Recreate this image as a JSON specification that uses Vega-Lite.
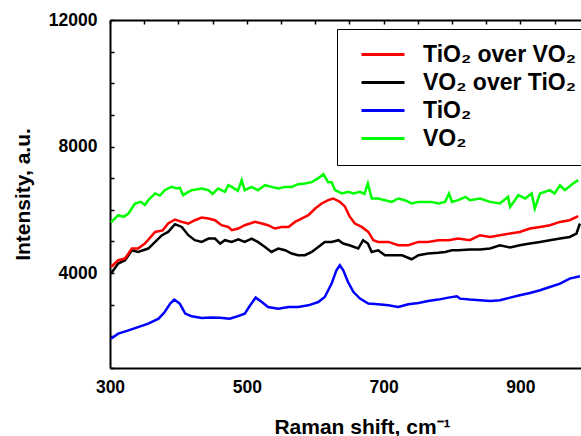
{
  "$schema": "https://vega.github.io/schema/vega-lite/v6.json",
  "width": 471,
  "height": 348,
  "autosize": {"type": "none"},
  "padding": {"left": 110, "top": 20, "right": 0, "bottom": 68},
  "config": {
    "view": {"stroke": null},
    "font": "Liberation Sans",
    "axis": {
      "domain": true,
      "domainColor": "black",
      "domainWidth": 2,
      "ticks": false,
      "grid": true,
      "gridColor": "black",
      "gridOpacity": 1,
      "gridWidth": 1.5,
      "gridDash": [4, 2000],
      "labelFlush": false,
      "labelColor": "black",
      "labelFont": "Liberation Sans",
      "labelFontSize": 17.5,
      "labelFontWeight": "bold",
      "titleColor": "black",
      "titleFont": "Liberation Sans",
      "titleFontSize": 21,
      "titleFontWeight": "bold"
    }
  },
  "datasets": {
    "spectra": [
      {"series": "TiO₂", "shift": 301.5, "intensity": 1927}, {"series": "TiO₂", "shift": 312, "intensity": 2086}, {"series": "TiO₂", "shift": 327, "intensity": 2190}, {"series": "TiO₂", "shift": 341, "intensity": 2294}, {"series": "TiO₂", "shift": 356, "intensity": 2402}, {"series": "TiO₂", "shift": 371, "intensity": 2560}, {"series": "TiO₂", "shift": 380, "intensity": 2769}, {"series": "TiO₂", "shift": 388, "intensity": 3035}, {"series": "TiO₂", "shift": 394, "intensity": 3162}, {"series": "TiO₂", "shift": 402, "intensity": 3035}, {"series": "TiO₂", "shift": 410, "intensity": 2719}, {"series": "TiO₂", "shift": 419.5, "intensity": 2633}, {"series": "TiO₂", "shift": 434, "intensity": 2579}, {"series": "TiO₂", "shift": 447, "intensity": 2600}, {"series": "TiO₂", "shift": 461, "intensity": 2590}, {"series": "TiO₂", "shift": 475, "intensity": 2560}, {"series": "TiO₂", "shift": 483, "intensity": 2610}, {"series": "TiO₂", "shift": 497, "intensity": 2719}, {"series": "TiO₂", "shift": 505, "intensity": 2981}, {"series": "TiO₂", "shift": 513, "intensity": 3225}, {"series": "TiO₂", "shift": 522, "intensity": 3086}, {"series": "TiO₂", "shift": 531, "intensity": 2927}, {"series": "TiO₂", "shift": 546, "intensity": 2877}, {"series": "TiO₂", "shift": 561, "intensity": 2927}, {"series": "TiO₂", "shift": 575, "intensity": 2927}, {"series": "TiO₂", "shift": 590, "intensity": 2981}, {"series": "TiO₂", "shift": 604.5, "intensity": 3086}, {"series": "TiO₂", "shift": 614, "intensity": 3244}, {"series": "TiO₂", "shift": 624, "intensity": 3668}, {"series": "TiO₂", "shift": 631, "intensity": 4089}, {"series": "TiO₂", "shift": 636, "intensity": 4247}, {"series": "TiO₂", "shift": 641, "intensity": 4089}, {"series": "TiO₂", "shift": 648, "intensity": 3719}, {"series": "TiO₂", "shift": 656, "intensity": 3402}, {"series": "TiO₂", "shift": 665.5, "intensity": 3193}, {"series": "TiO₂", "shift": 677.6, "intensity": 3035}, {"series": "TiO₂", "shift": 692, "intensity": 3013}, {"series": "TiO₂", "shift": 707, "intensity": 2981}, {"series": "TiO₂", "shift": 721.5, "intensity": 2927}, {"series": "TiO₂", "shift": 736, "intensity": 3013}, {"series": "TiO₂", "shift": 751, "intensity": 3054}, {"series": "TiO₂", "shift": 765, "intensity": 3117}, {"series": "TiO₂", "shift": 780, "intensity": 3162}, {"series": "TiO₂", "shift": 794.6, "intensity": 3225}, {"series": "TiO₂", "shift": 807, "intensity": 3266}, {"series": "TiO₂", "shift": 811.7, "intensity": 3193}, {"series": "TiO₂", "shift": 826, "intensity": 3162}, {"series": "TiO₂", "shift": 841, "intensity": 3140}, {"series": "TiO₂", "shift": 855.6, "intensity": 3117}, {"series": "TiO₂", "shift": 870, "intensity": 3140}, {"series": "TiO₂", "shift": 885, "intensity": 3225}, {"series": "TiO₂", "shift": 899, "intensity": 3298}, {"series": "TiO₂", "shift": 914, "intensity": 3371}, {"series": "TiO₂", "shift": 928.7, "intensity": 3456}, {"series": "TiO₂", "shift": 943, "intensity": 3560}, {"series": "TiO₂", "shift": 958, "intensity": 3668}, {"series": "TiO₂", "shift": 972, "intensity": 3826}, {"series": "TiO₂", "shift": 987, "intensity": 3899},

      {"series": "VO₂ over TiO₂", "shift": 301.5, "intensity": 3985}, {"series": "VO₂ over TiO₂", "shift": 312, "intensity": 4301}, {"series": "VO₂ over TiO₂", "shift": 322, "intensity": 4406}, {"series": "VO₂ over TiO₂", "shift": 332, "intensity": 4722}, {"series": "VO₂ over TiO₂", "shift": 341, "intensity": 4668}, {"series": "VO₂ over TiO₂", "shift": 356, "intensity": 4776}, {"series": "VO₂ over TiO₂", "shift": 366, "intensity": 4985}, {"series": "VO₂ over TiO₂", "shift": 376, "intensity": 5197}, {"series": "VO₂ over TiO₂", "shift": 385, "intensity": 5301}, {"series": "VO₂ over TiO₂", "shift": 395, "intensity": 5545}, {"series": "VO₂ over TiO₂", "shift": 405, "intensity": 5459}, {"series": "VO₂ over TiO₂", "shift": 414.5, "intensity": 5197}, {"series": "VO₂ over TiO₂", "shift": 424, "intensity": 5039}, {"series": "VO₂ over TiO₂", "shift": 434, "intensity": 4985}, {"series": "VO₂ over TiO₂", "shift": 444, "intensity": 5092}, {"series": "VO₂ over TiO₂", "shift": 453.5, "intensity": 5092}, {"series": "VO₂ over TiO₂", "shift": 461, "intensity": 4934}, {"series": "VO₂ over TiO₂", "shift": 468, "intensity": 5039}, {"series": "VO₂ over TiO₂", "shift": 478, "intensity": 4985}, {"series": "VO₂ over TiO₂", "shift": 487.5, "intensity": 5070}, {"series": "VO₂ over TiO₂", "shift": 497, "intensity": 4985}, {"series": "VO₂ over TiO₂", "shift": 507, "intensity": 5092}, {"series": "VO₂ over TiO₂", "shift": 516, "intensity": 4985}, {"series": "VO₂ over TiO₂", "shift": 526.6, "intensity": 4826}, {"series": "VO₂ over TiO₂", "shift": 536, "intensity": 4668}, {"series": "VO₂ over TiO₂", "shift": 546, "intensity": 4776}, {"series": "VO₂ over TiO₂", "shift": 556, "intensity": 4722}, {"series": "VO₂ over TiO₂", "shift": 565.6, "intensity": 4618}, {"series": "VO₂ over TiO₂", "shift": 575, "intensity": 4564}, {"series": "VO₂ over TiO₂", "shift": 585, "intensity": 4564}, {"series": "VO₂ over TiO₂", "shift": 595, "intensity": 4668}, {"series": "VO₂ over TiO₂", "shift": 604.5, "intensity": 4826}, {"series": "VO₂ over TiO₂", "shift": 614, "intensity": 4985}, {"series": "VO₂ over TiO₂", "shift": 624, "intensity": 4985}, {"series": "VO₂ over TiO₂", "shift": 634, "intensity": 5039}, {"series": "VO₂ over TiO₂", "shift": 641, "intensity": 4934}, {"series": "VO₂ over TiO₂", "shift": 650, "intensity": 4880}, {"series": "VO₂ over TiO₂", "shift": 663, "intensity": 4776}, {"series": "VO₂ over TiO₂", "shift": 670, "intensity": 5039}, {"series": "VO₂ over TiO₂", "shift": 677, "intensity": 4934}, {"series": "VO₂ over TiO₂", "shift": 682.6, "intensity": 4668}, {"series": "VO₂ over TiO₂", "shift": 692, "intensity": 4722}, {"series": "VO₂ over TiO₂", "shift": 702, "intensity": 4564}, {"series": "VO₂ over TiO₂", "shift": 717, "intensity": 4564}, {"series": "VO₂ over TiO₂", "shift": 727, "intensity": 4564}, {"series": "VO₂ over TiO₂", "shift": 741, "intensity": 4437}, {"series": "VO₂ over TiO₂", "shift": 751, "intensity": 4564}, {"series": "VO₂ over TiO₂", "shift": 765, "intensity": 4618}, {"series": "VO₂ over TiO₂", "shift": 780, "intensity": 4640}, {"series": "VO₂ over TiO₂", "shift": 790, "intensity": 4668}, {"series": "VO₂ over TiO₂", "shift": 800, "intensity": 4722}, {"series": "VO₂ over TiO₂", "shift": 809, "intensity": 4722}, {"series": "VO₂ over TiO₂", "shift": 826, "intensity": 4744}, {"series": "VO₂ over TiO₂", "shift": 841, "intensity": 4744}, {"series": "VO₂ over TiO₂", "shift": 855.6, "intensity": 4776}, {"series": "VO₂ over TiO₂", "shift": 870, "intensity": 4880}, {"series": "VO₂ over TiO₂", "shift": 885, "intensity": 4808}, {"series": "VO₂ over TiO₂", "shift": 899, "intensity": 4880}, {"series": "VO₂ over TiO₂", "shift": 914, "intensity": 4934}, {"series": "VO₂ over TiO₂", "shift": 928.7, "intensity": 4985}, {"series": "VO₂ over TiO₂", "shift": 943, "intensity": 5039}, {"series": "VO₂ over TiO₂", "shift": 958, "intensity": 5092}, {"series": "VO₂ over TiO₂", "shift": 972, "intensity": 5143}, {"series": "VO₂ over TiO₂", "shift": 982, "intensity": 5251}, {"series": "VO₂ over TiO₂", "shift": 987, "intensity": 5567},

      {"series": "TiO₂ over VO₂", "shift": 301.5, "intensity": 4193}, {"series": "TiO₂ over VO₂", "shift": 312, "intensity": 4406}, {"series": "TiO₂ over VO₂", "shift": 322, "intensity": 4459}, {"series": "TiO₂ over VO₂", "shift": 332, "intensity": 4776}, {"series": "TiO₂ over VO₂", "shift": 341, "intensity": 4776}, {"series": "TiO₂ over VO₂", "shift": 351, "intensity": 4934}, {"series": "TiO₂ over VO₂", "shift": 366, "intensity": 5301}, {"series": "TiO₂ over VO₂", "shift": 377, "intensity": 5350}, {"series": "TiO₂ over VO₂", "shift": 385, "intensity": 5567}, {"series": "TiO₂ over VO₂", "shift": 395, "intensity": 5694}, {"series": "TiO₂ over VO₂", "shift": 405, "intensity": 5618}, {"series": "TiO₂ over VO₂", "shift": 414.5, "intensity": 5566}, {"series": "TiO₂ over VO₂", "shift": 424, "intensity": 5671}, {"series": "TiO₂ over VO₂", "shift": 434, "intensity": 5757}, {"series": "TiO₂ over VO₂", "shift": 444, "intensity": 5725}, {"series": "TiO₂ over VO₂", "shift": 453.5, "intensity": 5671}, {"series": "TiO₂ over VO₂", "shift": 463, "intensity": 5513}, {"series": "TiO₂ over VO₂", "shift": 473, "intensity": 5459}, {"series": "TiO₂ over VO₂", "shift": 478, "intensity": 5355}, {"series": "TiO₂ over VO₂", "shift": 487.5, "intensity": 5409}, {"series": "TiO₂ over VO₂", "shift": 497, "intensity": 5513}, {"series": "TiO₂ over VO₂", "shift": 512, "intensity": 5618}, {"series": "TiO₂ over VO₂", "shift": 522, "intensity": 5566}, {"series": "TiO₂ over VO₂", "shift": 531, "intensity": 5513}, {"series": "TiO₂ over VO₂", "shift": 541, "intensity": 5409}, {"series": "TiO₂ over VO₂", "shift": 551, "intensity": 5459}, {"series": "TiO₂ over VO₂", "shift": 561, "intensity": 5459}, {"series": "TiO₂ over VO₂", "shift": 570.5, "intensity": 5618}, {"series": "TiO₂ over VO₂", "shift": 580, "intensity": 5725}, {"series": "TiO₂ over VO₂", "shift": 590, "intensity": 5830}, {"series": "TiO₂ over VO₂", "shift": 600, "intensity": 6042}, {"series": "TiO₂ over VO₂", "shift": 609.5, "intensity": 6200}, {"series": "TiO₂ over VO₂", "shift": 619, "intensity": 6305}, {"series": "TiO₂ over VO₂", "shift": 626.5, "intensity": 6358}, {"series": "TiO₂ over VO₂", "shift": 636, "intensity": 6251}, {"series": "TiO₂ over VO₂", "shift": 643.6, "intensity": 6100}, {"series": "TiO₂ over VO₂", "shift": 650, "intensity": 5800}, {"series": "TiO₂ over VO₂", "shift": 658, "intensity": 5567}, {"series": "TiO₂ over VO₂", "shift": 668, "intensity": 5459}, {"series": "TiO₂ over VO₂", "shift": 677.6, "intensity": 5301}, {"series": "TiO₂ over VO₂", "shift": 685, "intensity": 5039}, {"series": "TiO₂ over VO₂", "shift": 692, "intensity": 4985}, {"series": "TiO₂ over VO₂", "shift": 707, "intensity": 4985}, {"series": "TiO₂ over VO₂", "shift": 721.5, "intensity": 4880}, {"series": "TiO₂ over VO₂", "shift": 736, "intensity": 4880}, {"series": "TiO₂ over VO₂", "shift": 751, "intensity": 4985}, {"series": "TiO₂ over VO₂", "shift": 765, "intensity": 4985}, {"series": "TiO₂ over VO₂", "shift": 780, "intensity": 5039}, {"series": "TiO₂ over VO₂", "shift": 795, "intensity": 5039}, {"series": "TiO₂ over VO₂", "shift": 809, "intensity": 5092}, {"series": "TiO₂ over VO₂", "shift": 826, "intensity": 5039}, {"series": "TiO₂ over VO₂", "shift": 841, "intensity": 5197}, {"series": "TiO₂ over VO₂", "shift": 855.6, "intensity": 5143}, {"series": "TiO₂ over VO₂", "shift": 870, "intensity": 5197}, {"series": "TiO₂ over VO₂", "shift": 885, "intensity": 5250}, {"series": "TiO₂ over VO₂", "shift": 899, "intensity": 5301}, {"series": "TiO₂ over VO₂", "shift": 914, "intensity": 5409}, {"series": "TiO₂ over VO₂", "shift": 928.7, "intensity": 5459}, {"series": "TiO₂ over VO₂", "shift": 943, "intensity": 5513}, {"series": "TiO₂ over VO₂", "shift": 958, "intensity": 5618}, {"series": "TiO₂ over VO₂", "shift": 972, "intensity": 5671}, {"series": "TiO₂ over VO₂", "shift": 984.6, "intensity": 5798},

      {"series": "VO₂", "shift": 301.5, "intensity": 5600}, {"series": "VO₂", "shift": 312, "intensity": 5830}, {"series": "VO₂", "shift": 320, "intensity": 5780}, {"series": "VO₂", "shift": 327, "intensity": 5884}, {"series": "VO₂", "shift": 336.5, "intensity": 6200}, {"series": "VO₂", "shift": 345, "intensity": 6251}, {"series": "VO₂", "shift": 351, "intensity": 6150}, {"series": "VO₂", "shift": 356, "intensity": 6305}, {"series": "VO₂", "shift": 366, "intensity": 6517}, {"series": "VO₂", "shift": 373, "intensity": 6450}, {"series": "VO₂", "shift": 380, "intensity": 6621}, {"series": "VO₂", "shift": 390, "intensity": 6725}, {"series": "VO₂", "shift": 398, "intensity": 6675}, {"series": "VO₂", "shift": 402, "intensity": 6700}, {"series": "VO₂", "shift": 407, "intensity": 6463}, {"series": "VO₂", "shift": 414, "intensity": 6560}, {"series": "VO₂", "shift": 419.5, "intensity": 6621}, {"series": "VO₂", "shift": 434, "intensity": 6675}, {"series": "VO₂", "shift": 444, "intensity": 6621}, {"series": "VO₂", "shift": 450, "intensity": 6500}, {"series": "VO₂", "shift": 458, "intensity": 6675}, {"series": "VO₂", "shift": 468, "intensity": 6567}, {"series": "VO₂", "shift": 473, "intensity": 6779}, {"series": "VO₂", "shift": 478, "intensity": 6725}, {"series": "VO₂", "shift": 487, "intensity": 6600}, {"series": "VO₂", "shift": 492.5, "intensity": 6937}, {"series": "VO₂", "shift": 497, "intensity": 6621}, {"series": "VO₂", "shift": 507, "intensity": 6725}, {"series": "VO₂", "shift": 516, "intensity": 6621}, {"series": "VO₂", "shift": 526.6, "intensity": 6779}, {"series": "VO₂", "shift": 536, "intensity": 6725}, {"series": "VO₂", "shift": 546, "intensity": 6675}, {"series": "VO₂", "shift": 556, "intensity": 6725}, {"series": "VO₂", "shift": 565.6, "intensity": 6725}, {"series": "VO₂", "shift": 575, "intensity": 6811}, {"series": "VO₂", "shift": 585, "intensity": 6833}, {"series": "VO₂", "shift": 595, "intensity": 6874}, {"series": "VO₂", "shift": 604.5, "intensity": 7001}, {"series": "VO₂", "shift": 612, "intensity": 7127}, {"series": "VO₂", "shift": 619, "intensity": 6874}, {"series": "VO₂", "shift": 624, "intensity": 6874}, {"series": "VO₂", "shift": 629, "intensity": 6621}, {"series": "VO₂", "shift": 639, "intensity": 6517}, {"series": "VO₂", "shift": 648, "intensity": 6567}, {"series": "VO₂", "shift": 656, "intensity": 6517}, {"series": "VO₂", "shift": 665.5, "intensity": 6567}, {"series": "VO₂", "shift": 672, "intensity": 6500}, {"series": "VO₂", "shift": 677, "intensity": 6833}, {"series": "VO₂", "shift": 682.6, "intensity": 6358}, {"series": "VO₂", "shift": 692, "intensity": 6358}, {"series": "VO₂", "shift": 702, "intensity": 6305}, {"series": "VO₂", "shift": 712, "intensity": 6251}, {"series": "VO₂", "shift": 721.5, "intensity": 6358}, {"series": "VO₂", "shift": 731, "intensity": 6305}, {"series": "VO₂", "shift": 741, "intensity": 6200}, {"series": "VO₂", "shift": 751, "intensity": 6251}, {"series": "VO₂", "shift": 760.5, "intensity": 6251}, {"series": "VO₂", "shift": 770, "intensity": 6251}, {"series": "VO₂", "shift": 780, "intensity": 6200}, {"series": "VO₂", "shift": 790, "intensity": 6251}, {"series": "VO₂", "shift": 795.6, "intensity": 6517}, {"series": "VO₂", "shift": 800, "intensity": 6251}, {"series": "VO₂", "shift": 809, "intensity": 6305}, {"series": "VO₂", "shift": 820, "intensity": 6409}, {"series": "VO₂", "shift": 826, "intensity": 6305}, {"series": "VO₂", "shift": 841, "intensity": 6358}, {"series": "VO₂", "shift": 855.6, "intensity": 6251}, {"series": "VO₂", "shift": 870, "intensity": 6200}, {"series": "VO₂", "shift": 882, "intensity": 6409}, {"series": "VO₂", "shift": 885, "intensity": 6092}, {"series": "VO₂", "shift": 897, "intensity": 6463}, {"series": "VO₂", "shift": 907, "intensity": 6358}, {"series": "VO₂", "shift": 916.5, "intensity": 6517}, {"series": "VO₂", "shift": 921, "intensity": 6042}, {"series": "VO₂", "shift": 928.7, "intensity": 6517}, {"series": "VO₂", "shift": 943, "intensity": 6621}, {"series": "VO₂", "shift": 950, "intensity": 6517}, {"series": "VO₂", "shift": 958, "intensity": 6779}, {"series": "VO₂", "shift": 965, "intensity": 6621}, {"series": "VO₂", "shift": 977, "intensity": 6833}, {"series": "VO₂", "shift": 984.6, "intensity": 6937}
    ]
  },
  "data": {"name": "spectra"},
  "layer": [
    {
      "mark": {"type": "line", "strokeWidth": 2.5, "clip": true},
      "encoding": {
        "x": {
          "field": "shift",
          "type": "quantitative",
          "scale": {"domain": [300, 988.6], "nice": false, "zero": false},
          "axis": {
            "orient": "bottom",
            "values": [300, 350, 400, 450, 500, 550, 600, 650, 700, 750, 800, 850, 900, 950],
            "format": "d",
            "labelExpr": "datum.value % 200 == 100 ? datum.label : ''",
            "labelPadding": 10,
            "labelDx": -3,
            "title": "Raman shift, cm⁻¹",
            "titleX": 252,
            "titleY": 65,
            "titleAlign": "center",
            "titleBaseline": "alphabetic"
          }
        },
        "y": {
          "field": "intensity",
          "type": "quantitative",
          "scale": {"domain": [1000, 12000], "nice": false, "zero": false},
          "axis": {
            "values": [1000, 2000, 3000, 4000, 5000, 6000, 7000, 8000, 9000, 10000, 11000, 12000],
            "format": "d",
            "labelExpr": "datum.value % 4000 == 0 ? datum.label : ''",
            "labelPadding": 13,
            "title": "Intensity, a.u.",
            "titleAngle": 270,
            "titleX": -81,
            "titleY": 174,
            "titleAlign": "center",
            "titleBaseline": "alphabetic"
          }
        },
        "color": {
          "field": "series",
          "type": "nominal",
          "scale": {
            "domain": ["TiO₂ over VO₂", "VO₂ over TiO₂", "TiO₂", "VO₂"],
            "range": ["#ff0000", "#000000", "#0000ff", "#00ff00"]
          },
          "legend": {
            "orient": "none",
            "legendX": 227,
            "legendY": 9,
            "title": null,
            "symbolType": "stroke",
            "symbolSize": 1849,
            "symbolStrokeWidth": 3,
            "symbolOffset": 9,
            "clipHeight": 23,
            "labelFont": "Liberation Sans",
            "labelFontSize": 23,
            "labelFontWeight": "bold",
            "labelColor": "black",
            "labelOffset": 17,
            "labelLimit": 400,
            "padding": 14,
            "rowPadding": 4,
            "strokeColor": "black",
            "fillColor": "white"
          }
        }
      }
    },
    {
      "mark": {"type": "point", "opacity": 0},
      "encoding": {
        "x": {
          "field": "shift",
          "type": "quantitative",
          "scale": {"domain": [300, 988.6], "nice": false, "zero": false},
          "axis": {
            "orient": "top",
            "values": [300, 350, 400, 450, 500, 550, 600, 650, 700, 750, 800, 850, 900, 950],
            "labels": false,
            "title": null
          }
        }
      }
    }
  ],
  "resolve": {"axis": {"x": "independent"}}
}
